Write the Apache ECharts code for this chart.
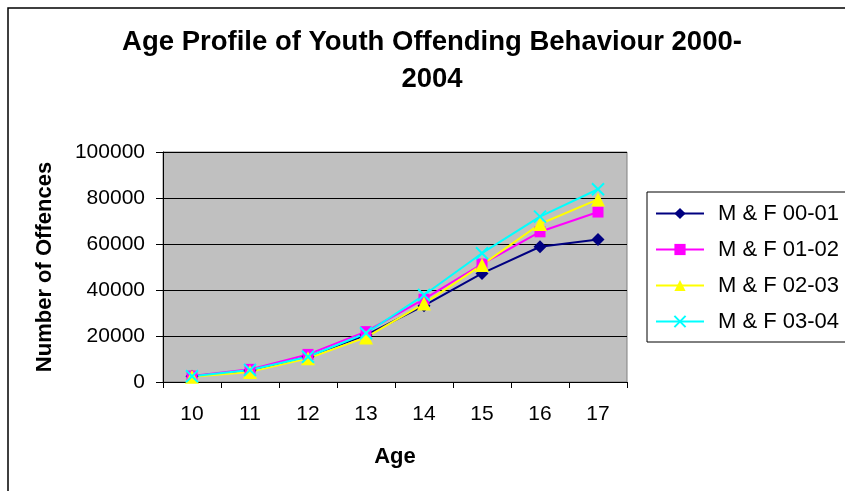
<!DOCTYPE html>
<html>
<head>
<meta charset="utf-8">
<script src="https://cdn.jsdelivr.net/npm/echarts@6/dist/echarts.min.js"></script>
<style>
  html, body { margin: 0; padding: 0; background: #fff; }
  #chart { width: 845px; height: 491px; }
</style>
</head>
<body>
<div id="chart"></div>
<script>
// data
const ages = ['10', '11', '12', '13', '14', '15', '16', '17'];
const mf0001 = [2500, 5000, 11000, 20400, 33200, 47200, 58800, 62000];
const mf0102 = [2600, 5500, 12000, 21900, 36000, 51300, 65300, 73900];
const mf0203 = [2300, 4400, 10300, 19400, 34100, 50900, 68700, 79400];
const mf0304 = [2500, 5200, 11000, 21200, 37800, 56000, 71900, 83800];
const yTicks = [0, 20000, 40000, 60000, 80000, 100000];

const font = 'Liberation Sans, Arial, sans-serif';
const crossPath = 'path://M0,0L10,10M10,0L0,10';

const chart = echarts.init(document.getElementById('chart'));

function line(name, data, color, symbol, size, extra) {
  return Object.assign({
    name: name,
    type: 'line',
    data: data,
    symbol: symbol,
    symbolSize: size,
    showAllSymbol: true,
    lineStyle: { color: color, width: 2 },
    itemStyle: { color: color },
    emphasis: { disabled: true },
    animation: false
  }, extra || {});
}

chart.setOption({
  backgroundColor: '#fff',
  graphic: [{
    type: 'rect',
    shape: { x: 8, y: 8, width: 900, height: 600 },
    style: { fill: 'none', stroke: '#000', lineWidth: 1.5 },
    z: -1
  }],
  title: {
    text: 'Age Profile of Youth Offending Behaviour 2000-\n2004',
    left: 432,
    top: 24,
    padding: 0,
    textAlign: 'center',
    textStyle: { fontFamily: font, fontSize: 27.5, fontWeight: 'bold', color: '#000', lineHeight: 37 }
  },
  legend: {
    orient: 'vertical',
    left: 647,
    top: 192,
    padding: [10, 20, 9, 8],
    itemWidth: 48,
    itemHeight: 14,
    itemGap: 13,
    borderColor: '#000',
    borderWidth: 1,
    textStyle: { fontFamily: font, fontSize: 22, color: '#000', lineHeight: 23, padding: [0, 0, 0, 9] },
    data: ['M & F 00-01', 'M & F 01-02', 'M & F 02-03', 'M & F 03-04']
  },
  grid: {
    left: 163, top: 152, right: 218, bottom: 109,
    show: true,
    backgroundColor: '#c0c0c0',
    borderColor: '#808080',
    borderWidth: 1
  },
  xAxis: {
    type: 'category',
    data: ages,
    boundaryGap: true,
    name: 'Age',
    nameLocation: 'middle',
    nameGap: 64,
    nameTextStyle: { fontFamily: font, fontSize: 22, fontWeight: 'bold', color: '#000' },
    axisLine: { lineStyle: { color: '#000', width: 1 } },
    axisTick: { show: true, length: 6, lineStyle: { color: '#000' } },
    axisLabel: { fontFamily: font, fontSize: 21, color: '#000', margin: 22 }
  },
  yAxis: {
    type: 'value',
    min: yTicks[0],
    max: yTicks[yTicks.length - 1],
    interval: 20000,
    name: 'Number of Offences',
    nameLocation: 'middle',
    nameGap: 107,
    nameTextStyle: { fontFamily: font, fontSize: 22, fontWeight: 'bold', color: '#000' },
    axisLine: { show: true, lineStyle: { color: '#000', width: 1 } },
    axisTick: { show: true, length: 7, lineStyle: { color: '#000' } },
    axisLabel: { fontFamily: font, fontSize: 21, color: '#000', margin: 18, formatter: v => String(v) },
    splitLine: { show: true, lineStyle: { color: '#000', width: 1 } }
  },
  series: [
    line('M & F 00-01', mf0001, '#000080', 'diamond', 13),
    line('M & F 01-02', mf0102, '#ff00ff', 'rect', 11),
    line('M & F 02-03', mf0203, '#ffff00', 'triangle', 14),
    line('M & F 03-04', mf0304, '#00ffff', crossPath, 12, {
      itemStyle: { color: 'none', borderColor: '#00ffff', borderWidth: 2 }
    })
  ]
});
</script>
</body>
</html>
